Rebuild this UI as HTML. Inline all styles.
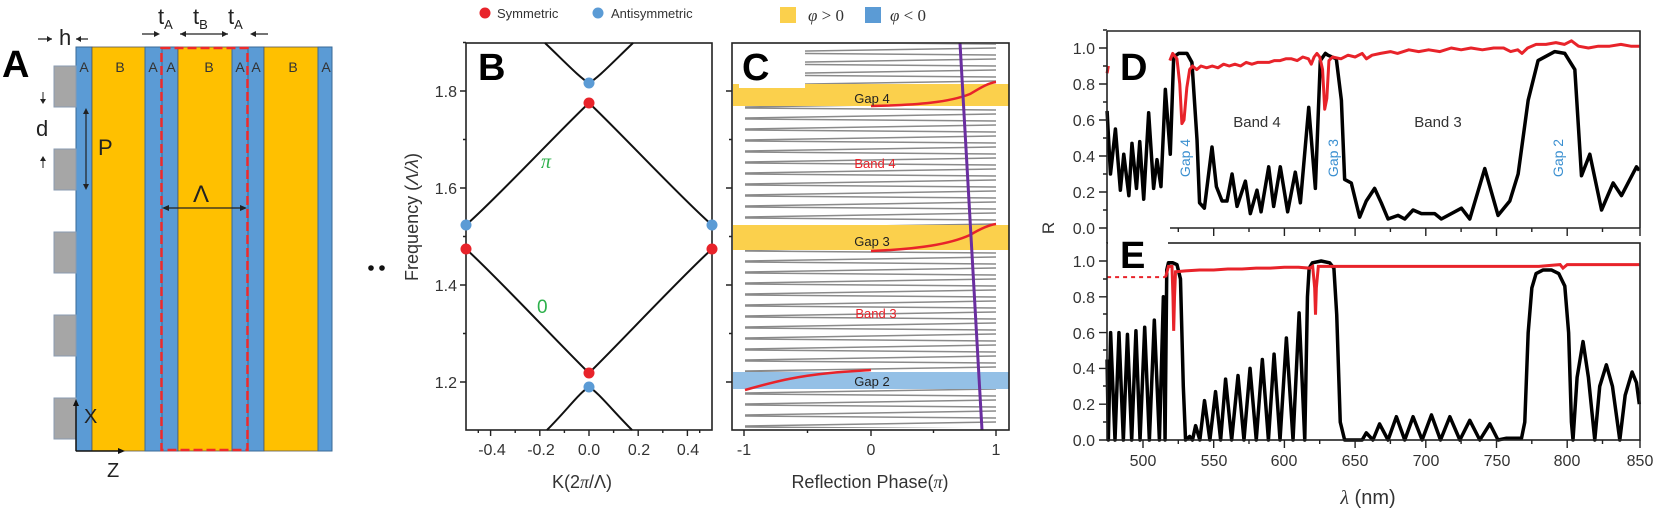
<!DOCTYPE html>
<html><head><meta charset="utf-8"><style>
html,body{margin:0;padding:0;background:#fff;}
svg{display:block;font-family:"Liberation Sans",sans-serif;}
</style></head><body>
<svg width="1658" height="515" viewBox="0 0 1658 515" xmlns="http://www.w3.org/2000/svg">
<defs>
<pattern id="zz" x="745" y="45" width="251" height="11" patternUnits="userSpaceOnUse">
<path d="M0,7 L251,3 M0,8 L251,10" stroke="#8a8a8a" stroke-width="1.6" fill="none"/>
</pattern>
</defs>

<!-- ============ PANEL A ============ -->
<g>
<rect x="76" y="47" width="16" height="404" fill="#5b9bd5" stroke="#3a6a96" stroke-width="1"/>
<rect x="92" y="47" width="53" height="404" fill="#ffc000" stroke="#555" stroke-width="0.8"/>
<rect x="145" y="47" width="17" height="404" fill="#5b9bd5" stroke="#3a6a96" stroke-width="1"/>
<rect x="162" y="47" width="16" height="404" fill="#5b9bd5" stroke="#3a6a96" stroke-width="1"/>
<rect x="178" y="47" width="54" height="404" fill="#ffc000" stroke="#555" stroke-width="0.8"/>
<rect x="232" y="47" width="16" height="404" fill="#5b9bd5" stroke="#3a6a96" stroke-width="1"/>
<rect x="248" y="47" width="16" height="404" fill="#5b9bd5" stroke="#3a6a96" stroke-width="1"/>
<rect x="264" y="47" width="54" height="404" fill="#ffc000" stroke="#555" stroke-width="0.8"/>
<rect x="318" y="47" width="14" height="404" fill="#5b9bd5" stroke="#3a6a96" stroke-width="1"/>
<rect x="161.5" y="48" width="86" height="402" fill="none" stroke="#ee2a2a" stroke-width="2.5" stroke-dasharray="9,4"/>
<g fill="#a6a6a6" stroke="#8a9bb0" stroke-width="1">
<rect x="54" y="66" width="22" height="41"/><rect x="54" y="149" width="22" height="41"/>
<rect x="54" y="232" width="22" height="41"/><rect x="54" y="315" width="22" height="41"/>
<rect x="54" y="398" width="22" height="41"/>
</g>
<g font-size="14" fill="#333" text-anchor="middle">
<text x="84" y="72">A</text><text x="120" y="72">B</text><text x="153" y="72">A</text><text x="171" y="72">A</text>
<text x="209" y="72">B</text><text x="240" y="72">A</text><text x="256" y="72">A</text><text x="293" y="72">B</text><text x="326" y="72">A</text>
</g>
<text x="2" y="77" font-size="38" font-weight="bold" fill="#000">A</text>
<text x="59" y="45" font-size="22" fill="#222">h</text>
<path d="M38,39 L52,39 M88,39 L76,39" stroke="#222" stroke-width="1.2"/>
<path d="M52,39 l-5,-3 v6z M76,39 l5,-3 v6z" fill="#222"/>
<text x="158" y="24" font-size="22" fill="#222">t<tspan font-size="13" dy="5">A</tspan></text>
<text x="193" y="24" font-size="22" fill="#222">t<tspan font-size="13" dy="5">B</tspan></text>
<text x="228" y="24" font-size="22" fill="#222">t<tspan font-size="13" dy="5">A</tspan></text>
<path d="M142,34 L158,34 M180,34 L228,34 M252,34 L268,34" stroke="#222" stroke-width="1.2"/>
<path d="M160,34 l-6,-3 v6z M180,34 l6,-3 v6z M228,34 l-6,-3 v6z M250,34 l6,-3 v6z" fill="#222"/>
<text x="36" y="136" font-size="22" fill="#222">d</text>
<path d="M43,92 v10 M43,168 v-10" stroke="#222" stroke-width="1"/>
<path d="M43,104 l-3,-5 h6z M43,156 l-3,5 h6z" fill="#222"/>
<text x="98" y="155" font-size="22" fill="#222">P</text>
<path d="M86,110 V188" stroke="#222" stroke-width="1.2"/>
<path d="M86,108 l-3,6 h6z M86,190 l-3,-6 h6z" fill="#222"/>
<text x="193" y="202" font-size="24" fill="#222">Λ</text>
<path d="M164,208 H245" stroke="#222" stroke-width="1.2"/>
<path d="M162,208 l7,-3 v6z M247,208 l-7,-3 v6z" fill="#222"/>
<path d="M76,451 V402 M76,451 H122" stroke="#111" stroke-width="1.5"/>
<path d="M76,399 l-3,7 h6z M125,451 l-7,-3 v6z" fill="#111"/>
<text x="84" y="423" font-size="20" fill="#222">X</text>
<text x="107" y="477" font-size="20" fill="#222">Z</text>
</g>

<circle cx="371" cy="268" r="2.8" fill="#111"/><circle cx="382" cy="268" r="2.8" fill="#111"/>

<!-- ============ LEGEND B ============ -->
<circle cx="485" cy="13" r="5.5" fill="#e8232a"/>
<text x="497" y="18" font-size="13" fill="#333">Symmetric</text>
<circle cx="598" cy="13" r="5.5" fill="#5b9bd5"/>
<text x="611" y="18" font-size="13" fill="#333">Antisymmetric</text>

<!-- ============ PANEL B ============ -->
<g>
<rect x="466" y="43" width="246" height="387" fill="none" stroke="#222" stroke-width="1.6"/>
<g stroke="#222" stroke-width="1.4">
<path d="M466,382 h-6 M466,285 h-6 M466,188 h-6 M466,91 h-6 M466,333.5 h-3 M466,236.5 h-3 M466,139.5 h-3 M466,42.5 h-3"/>
<path d="M490.6,430 v6 M539.8,430 v6 M589,430 v6 M638.2,430 v6 M687.4,430 v6 M478.3,430 v3 M515.2,430 v3 M564.4,430 v3 M613.6,430 v3 M662.8,430 v3 M699.7,430 v3"/>
</g>
<g font-size="16" fill="#333" text-anchor="end">
<text x="457" y="388">1.2</text><text x="457" y="291">1.4</text><text x="457" y="194">1.6</text><text x="457" y="97">1.8</text>
</g>
<g font-size="16" fill="#333" text-anchor="middle">
<text x="492" y="455">-0.4</text><text x="541" y="455">-0.2</text><text x="589" y="455">0.0</text><text x="639" y="455">0.2</text><text x="688" y="455">0.4</text>
</g>
<text x="582" y="488" font-size="18" fill="#333" text-anchor="middle">K(2<tspan font-style="italic" font-family="Liberation Serif">π</tspan>/Λ)</text>
<text transform="translate(418,217) rotate(-90)" font-size="18" fill="#333" text-anchor="middle">Frequency (<tspan font-style="italic">Λ/λ</tspan>)</text>
<g fill="none" stroke="#111" stroke-width="2">
<path d="M466,225 C495,200 565,125 589,103 C613,125 683,200 712,225"/>
<path d="M466,249 C495,275 565,350 589,373 C613,350 683,275 712,249"/>
<path d="M545,43 C565,62 580,78 589,83 C598,78 613,62 633,43"/>
<path d="M547,430 C567,410 580,392 589,387 C598,392 612,410 632,430"/>
</g>
<circle cx="589" cy="83" r="5.5" fill="#5b9bd5"/><circle cx="589" cy="103" r="5.5" fill="#e8232a"/>
<circle cx="589" cy="373" r="5.5" fill="#e8232a"/><circle cx="589" cy="387" r="5.5" fill="#5b9bd5"/>
<circle cx="466" cy="225" r="5.5" fill="#5b9bd5"/><circle cx="466" cy="249" r="5.5" fill="#e8232a"/>
<circle cx="712" cy="225" r="5.5" fill="#5b9bd5"/><circle cx="712" cy="249" r="5.5" fill="#e8232a"/>
<text x="541" y="168" font-size="20" fill="#2db04b" font-style="italic" font-family="Liberation Serif">π</text>
<text x="537" y="313" font-size="19" fill="#2db04b">0</text>
<text x="478" y="80" font-size="38" font-weight="bold" fill="#000">B</text>
</g>

<!-- ============ LEGEND C ============ -->
<rect x="780" y="7" width="16" height="16" fill="#fbd04c"/>
<text x="808" y="21" font-size="17" fill="#333" font-family="Liberation Serif"><tspan font-style="italic">φ</tspan> &gt; 0</text>
<rect x="865" y="7" width="16" height="16" fill="#5b9bd5"/>
<text x="890" y="21" font-size="17" fill="#333" font-family="Liberation Serif"><tspan font-style="italic">φ</tspan> &lt; 0</text>

<!-- ============ PANEL C ============ -->
<g>
<rect x="745" y="44" width="251" height="384" fill="url(#zz)"/>
<rect x="733" y="84" width="276" height="22" fill="#fbd04c"/>
<rect x="733" y="225" width="276" height="25" fill="#fbd04c"/>
<rect x="733" y="372" width="276" height="17" fill="#94c0e6"/>
<rect x="739" y="43" width="66" height="45" fill="#fff"/>
<text x="742" y="80" font-size="38" font-weight="bold" fill="#000">C</text>
<g fill="none" stroke="#e8232a" stroke-width="2.5">
<path d="M871,106 C920,105 950,102 970,94 C980,88 988,83 996,82"/>
<path d="M871,251 C920,249 950,244 970,235 C980,229 988,225 996,224"/>
<path d="M745,390 C780,380 800,376 830,373 C850,371 860,371 871,370"/>
</g>
<path d="M960,43 L982,430" stroke="#6a2ea0" stroke-width="3"/>
<rect x="732" y="43" width="277" height="387" fill="none" stroke="#222" stroke-width="1.6"/>
<g stroke="#222" stroke-width="1.4">
<path d="M732,382 h-6 M732,285 h-6 M732,188 h-6 M732,91 h-6 M732,333.5 h-3 M732,236.5 h-3 M732,139.5 h-3"/>
<path d="M744,430 v6 M871,430 v6 M996,430 v6 M807.5,430 v3 M933.5,430 v3"/>
</g>
<g font-size="16" fill="#333" text-anchor="middle">
<text x="744" y="455">-1</text><text x="871" y="455">0</text><text x="996" y="455">1</text>
</g>
<text x="870" y="488" font-size="18" fill="#333" text-anchor="middle">Reflection Phase(<tspan font-style="italic" font-family="Liberation Serif">π</tspan>)</text>
<g font-size="13" text-anchor="middle">
<text x="872" y="103" fill="#222">Gap 4</text>
<text x="872" y="246" fill="#222">Gap 3</text>
<text x="872" y="386" fill="#222">Gap 2</text>
<text x="875" y="168" fill="#e8232a">Band 4</text>
<text x="876" y="318" fill="#e8232a">Band 3</text>
</g>
</g>

<!-- ============ PANEL D ============ -->
<g>
<g transform="translate(436,228) scale(1.414,-180)" fill="none">
<path vector-effect="non-scaling-stroke" stroke="#000" stroke-width="3.5" stroke-linejoin="round" d="M474.6,0.65 L477,0.3 L480.5,0.55 L484,0.21 L486.4,0.41 L490,0.18 L492.2,0.47 L495.4,0.22 L497.7,0.48 L500.5,0.16 L504,0.64 L507.5,0.22 L509.9,0.38 L512.7,0.23 L515.8,0.77 L519.3,0.41 L521.7,0.95 L525.2,0.97 L531.1,0.97 L534.6,0.92 L538.2,0.49 L540,0.14 L543.4,0.11 L548.8,0.45 L551.9,0.23 L555.9,0.15 L559.4,0.15 L563,0.3 L566.5,0.12 L572.4,0.26 L575.9,0.08 L580.6,0.21 L583.5,0.09 L588.9,0.34 L592.4,0.12 L597.1,0.34 L602.3,0.09 L607.7,0.31 L611.3,0.14 L617.2,0.67 L621.9,0.22 L625.4,0.93 L629,0.97 L630.8,0.96 L636.7,0.94 L640.3,0.71 L642.6,0.27 L647.3,0.25 L653.2,0.06 L657.9,0.15 L663.8,0.22 L668.5,0.14 L673.3,0.05 L680.4,0.07 L685.1,0.05 L691,0.1 L696.9,0.08 L706.3,0.08 L711,0.05 L725.2,0.11 L731.1,0.05 L741.7,0.33 L751.1,0.07 L759.4,0.15 L765.3,0.3 L772.4,0.71 L779.4,0.93 L791.2,0.98 L798.3,0.97 L805.4,0.88 L810.1,0.29 L816,0.41 L824.3,0.1 L832.5,0.25 L838.4,0.18 L849,0.34 L851,0.32"/>
<path vector-effect="non-scaling-stroke" stroke="#e8232a" stroke-width="3" stroke-linejoin="round" d="M474.6,0.86 L475.5,0.9 M519,0.93 L521,0.97 L524,0.94 L526,0.8 L527.5,0.58 L529,0.6 L531,0.78 L533,0.88 L535,0.9 L538,0.88 L541,0.9 L545,0.89 L549,0.9 L553,0.89 L557,0.91 L561,0.9 L565,0.91 L569,0.9 L573,0.92 L577,0.91 L581,0.92 L585,0.92 L589,0.92 L593,0.93 L597,0.93 L601,0.94 L605,0.94 L609,0.93 L613,0.95 L617,0.94 L619,0.91 L621,0.95 L623,0.97 L625,0.95 L627,0.88 L628.5,0.66 L630,0.72 L631.5,0.93 L634,0.95 L640,0.94 L645,0.96 L650,0.95 L655,0.97 L658,0.94 L662,0.96 L668,0.97 L675,0.98 L680,0.97 L688,0.99 L695,0.98 L702,0.99 L710,0.98 L718,1.0 L725,0.99 L732,1.0 L740,0.99 L748,1.0 L755,1.0 L760,0.98 L765,0.99 L768,0.97 L772,1.0 L778,1.02 L785,1.02 L792,1.03 L798,1.02 L803,1.04 L808,1.01 L815,1.0 L822,1.01 L830,1.01 L838,1.02 L845,1.01 L851,1.01"/>
</g>
<path d="M1107,31 V228 M1107,31 H1640 V228 M1170,228 H1640" stroke="#222" stroke-width="1.6" fill="none"/>
<g stroke="#222" stroke-width="1.4">
<path d="M1107,228 h-8 M1107,192 h-8 M1107,156 h-8 M1107,120 h-8 M1107,84 h-8 M1107,48 h-8 M1107,210 h-4 M1107,174 h-4 M1107,138 h-4 M1107,102 h-4 M1107,66 h-4 M1107,30 h-4"/>
<path d="M1213.7,228 v8 M1284.4,228 v8 M1355.1,228 v8 M1425.8,228 v8 M1496.5,228 v8 M1567.2,228 v8 M1178.3,228 v4 M1249,228 v4 M1319.7,228 v4 M1390.4,228 v4 M1461.1,228 v4 M1531.8,228 v4 M1602.5,228 v4 M1640,228 v8"/>
</g>
<g font-size="16" fill="#333" text-anchor="end">
<text x="1095" y="234">0.0</text><text x="1095" y="198">0.2</text><text x="1095" y="162">0.4</text><text x="1095" y="126">0.6</text><text x="1095" y="90">0.8</text><text x="1095" y="54">1.0</text>
</g>
<text x="1120" y="80" font-size="38" font-weight="bold" fill="#000">D</text>
<text x="1257" y="127" font-size="15" fill="#333" text-anchor="middle">Band 4</text>
<text x="1438" y="127" font-size="15" fill="#333" text-anchor="middle">Band 3</text>
<g font-size="14" fill="#3a8fd0" text-anchor="middle">
<text transform="translate(1190,158) rotate(-90)">Gap 4</text>
<text transform="translate(1338,158) rotate(-90)">Gap 3</text>
<text transform="translate(1563,158) rotate(-90)">Gap 2</text>
</g>
</g>

<!-- ============ PANEL E ============ -->
<g>
<g transform="translate(436,440) scale(1.414,-179)" fill="none">
<path vector-effect="non-scaling-stroke" stroke="#000" stroke-width="3.5" stroke-linejoin="round" d="M474.6,0.45 L475.5,0 L477.1,0.6 L480.2,0 L483,0.6 L486.1,0 L489,0.59 L492,0 L495,0.61 L497.9,0 L501.2,0.63 L504.5,0 L508,0.67 L511.6,0 L514.4,0.8 L515.6,0 L516.8,0.95 L518,0.99 L521,0.99 L524,0.98 L526.5,0.9 L528.5,0.3 L530.1,0 L533,0.02 L535,0 L537.2,0.08 L540.2,0 L543.5,0.22 L547.3,0 L551.3,0.27 L554.9,0 L558.4,0.34 L562.7,0 L567.2,0.36 L571.4,0 L575.7,0.4 L580.1,0 L584.4,0.45 L588.7,0 L592.7,0.48 L596.9,0 L601.4,0.57 L606.1,0 L610.4,0.71 L614.4,0 L616.3,0.8 L617.5,0.96 L619.8,0.99 L626,1.0 L632,0.99 L635,0.96 L637,0.7 L639.5,0.1 L642.6,0 L655,0 L657.9,0.04 L662.6,0 L667.3,0.09 L673.3,0 L679.2,0.13 L685.1,0 L691,0.13 L697.4,0 L704,0.14 L710.4,0 L717,0.13 L724.1,0 L731.1,0.11 L738.2,0 L745.3,0.09 L751.1,0 L757.1,0.01 L767.7,0.01 L770,0.1 L772.4,0.6 L775,0.85 L778,0.93 L783,0.95 L788.8,0.95 L794,0.93 L798.3,0.86 L801,0.6 L803,0.1 L804.1,0 L807,0.35 L811.2,0.55 L815,0.35 L819.5,0 L823,0.3 L827.7,0.42 L832,0.3 L837.2,0 L841,0.25 L845.9,0.38 L849,0.32 L851,0.2"/>
<path vector-effect="non-scaling-stroke" stroke="#e8232a" stroke-width="2" stroke-dasharray="4,4" d="M474.6,0.91 L516,0.91"/>
<path vector-effect="non-scaling-stroke" stroke="#e8232a" stroke-width="3" d="M516,0.91 L518,0.97 L520.5,0.97 L521.2,0.8 L521.7,0.61 L522.3,0.8 L523,0.94 L530,0.945 L540,0.95 L550,0.95 L560,0.955 L570,0.955 L580,0.96 L590,0.96 L600,0.965 L610,0.965 L618,0.96 L620,0.97 L621.4,0.85 L622,0.7 L622.6,0.85 L624,0.97 L640,0.97 L660,0.97 L700,0.97 L740,0.97 L780,0.97 L795,0.98 L797,0.96 L800,0.98 L851,0.98"/>
</g>
<rect x="1107" y="243" width="533" height="197" fill="none" stroke="#222" stroke-width="1.6"/>
<rect x="1108" y="228.9" width="60" height="26" fill="#fff"/>
<path d="M1107,228 V243" stroke="#222" stroke-width="1.6"/>
<g stroke="#222" stroke-width="1.4">
<path d="M1107,440 h-8 M1107,404.2 h-8 M1107,368.4 h-8 M1107,332.6 h-8 M1107,296.8 h-8 M1107,261 h-8 M1107,422 h-4 M1107,386 h-4 M1107,350 h-4 M1107,314 h-4 M1107,279 h-4"/>
<path d="M1143,440 v8 M1213.7,440 v8 M1284.4,440 v8 M1355.1,440 v8 M1425.8,440 v8 M1496.5,440 v8 M1567.2,440 v8 M1640,440 v8 M1178.3,440 v4 M1249,440 v4 M1319.7,440 v4 M1390.4,440 v4 M1461.1,440 v4 M1531.8,440 v4 M1602.5,440 v4"/>
</g>
<g font-size="16" fill="#333" text-anchor="end">
<text x="1095" y="446">0.0</text><text x="1095" y="410">0.2</text><text x="1095" y="374">0.4</text><text x="1095" y="339">0.6</text><text x="1095" y="303">0.8</text><text x="1095" y="267">1.0</text>
</g>
<g font-size="16" fill="#333" text-anchor="middle">
<text x="1143" y="466">500</text><text x="1214" y="466">550</text><text x="1284" y="466">600</text><text x="1355" y="466">650</text><text x="1426" y="466">700</text><text x="1497" y="466">750</text><text x="1567" y="466">800</text><text x="1640" y="466">850</text>
</g>
<text x="1120" y="268" font-size="38" font-weight="bold" fill="#000">E</text>
<text x="1368" y="504" font-size="20" fill="#333" text-anchor="middle"><tspan font-style="italic" font-family="Liberation Serif">λ</tspan> (nm)</text>
<text transform="translate(1054,228) rotate(-90)" font-size="17" fill="#333" text-anchor="middle">R</text>
</g>
</svg>
</body></html>
